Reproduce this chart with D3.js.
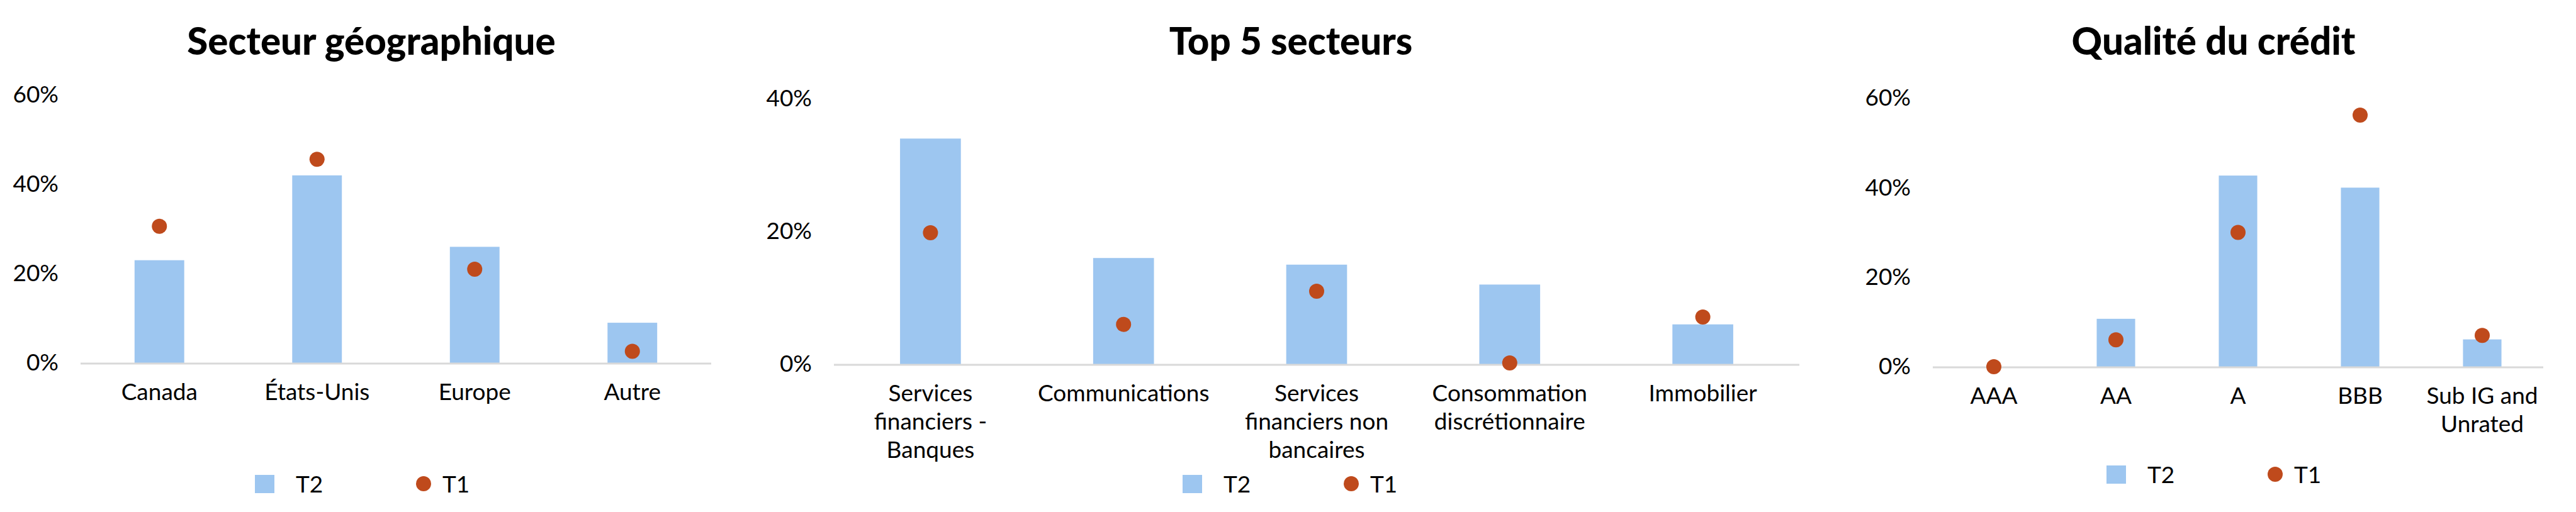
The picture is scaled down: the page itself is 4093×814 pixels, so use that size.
<!DOCTYPE html>
<html>
<head>
<meta charset="utf-8">
<script src="https://cdn.jsdelivr.net/npm/d3@7"></script>
<style>
  body { margin: 0; background: #fff; }
  svg { display: block; font-family: Lato, "Open Sans", sans-serif; }
</style>
</head>
<body>
<svg id="chart" width="4093" height="814"></svg>
<script>
// values in percent
const geoCategories = ["Canada", "États-Unis", "Europe", "Autre"]
const geoT2 = [23, 42, 26, 9]
const geoT1 = [30.6, 45.6, 21, 2.6]

const sectorCategories = ["Services\nfinanciers -\nBanques", "Communications", "Services\nfinanciers non\nbancaires", "Consommation\ndiscrétionnaire", "Immobilier"]
const sectorT2 = [34, 16, 15, 12, 6]
const sectorT1 = [19.8, 6, 11, 0.2, 7.1]

const creditCategories = ["AAA", "AA", "A", "BBB", "Sub IG and\nUnrated"]
const creditT2 = [0, 10.7, 42.7, 40, 6.1]
const creditT1 = [0, 6, 30, 56.2, 7]

const geoTicks = [0, 20, 40, 60]
const sectorTicks = [0, 20, 40]
const creditTicks = [0, 20, 40, 60]

const seriesNames = ["T2", "T1"]

const barColor = "#9dc6f0"
const dotColor = "#bf4a1c"
const fontSize = 37

const panels = [
  {title: "Secteur géographique", cats: geoCategories, t2: geoT2, t1: geoT1, ticks: geoTicks,
   titleX: 590, x0: 128, x1: 1130, y0: 577, yTop: 151, legendX: 405, legendY: 770},
  {title: "Top 5 secteurs", cats: sectorCategories, t2: sectorT2, t1: sectorT1, ticks: sectorTicks,
   titleX: 2051, x0: 1325, x1: 2859, y0: 579, yTop: 157, legendX: 1879, legendY: 770},
  {title: "Qualité du crédit", cats: creditCategories, t2: creditT2, t1: creditT1, ticks: creditTicks,
   titleX: 3517, x0: 3071, x1: 4041, y0: 583, yTop: 156, legendX: 3347, legendY: 755},
]

let svg = d3.select("#chart")

panels.forEach(p => {
  let g = svg.append("g")

  let x = d3.scaleBand()
      .domain(p.cats)
      .range([p.x0, p.x1])
      .paddingInner(0.685)
      .paddingOuter(0.3425)

  let yMax = d3.max(p.ticks)
  let y = d3.scaleLinear()
      .domain([0, yMax])
      .range([p.y0, p.yTop])

  g.append("text")
      .attr("x", p.titleX)
      .attr("y", 87)
      .attr("text-anchor", "middle")
      .attr("font-size", 60)
      .attr("font-weight", 900)
      .attr("fill", "#000")
      .text(p.title)

  // y axis labels only
  let yAxis = g.append("g")
      .attr("transform", `translate(${p.x0},0)`)
      .call(d3.axisLeft(y).tickValues(p.ticks).tickSize(0).tickPadding(35).tickFormat(d => d + "%"))
  yAxis.select(".domain").remove()
  yAxis.selectAll("text")
      .attr("font-size", fontSize)
      .attr("font-family", "Lato, sans-serif")
      .attr("fill", "#000")

  g.append("g").selectAll("rect")
    .data(p.t2)
    .join("rect")
      .attr("x", (d, i) => x(p.cats[i]))
      .attr("y", d => y(d))
      .attr("width", x.bandwidth())
      .attr("height", d => p.y0 - y(d))
      .attr("fill", barColor)

  g.append("line")
      .attr("x1", p.x0)
      .attr("x2", p.x1)
      .attr("y1", p.y0 + 1)
      .attr("y2", p.y0 + 1)
      .attr("stroke", "#d9d9d9")
      .attr("stroke-width", 3)

  g.append("g").selectAll("circle")
    .data(p.t1)
    .join("circle")
      .attr("cx", (d, i) => x(p.cats[i]) + x.bandwidth() / 2)
      .attr("cy", d => y(d))
      .attr("r", 12)
      .attr("fill", dotColor)

  // category labels, split on line breaks
  let xAxis = g.append("g")
      .attr("transform", `translate(0,${p.y0})`)
      .call(d3.axisBottom(x).tickSize(0))
  xAxis.select(".domain").remove()
  xAxis.selectAll("text")
      .attr("font-size", fontSize)
      .attr("font-family", "Lato, sans-serif")
      .attr("fill", "#000")
      .attr("y", 0)
      .attr("dy", null)
      .text(null)
      .each(function(d) {
        let t = d3.select(this)
        d.split("\n").forEach((line, i) => {
          t.append("tspan")
              .attr("x", 0)
              .attr("y", 59 + i * 45)
              .text(line)
        })
      })

  // legend
  let lg = g.append("g")
  lg.append("rect")
      .attr("x", p.legendX)
      .attr("y", p.legendY - 15)
      .attr("width", 31)
      .attr("height", 29)
      .attr("fill", barColor)
  lg.append("text")
      .attr("x", p.legendX + 65)
      .attr("y", p.legendY + 13)
      .attr("font-size", fontSize)
      .text(seriesNames[0])
  lg.append("circle")
      .attr("cx", p.legendX + 268)
      .attr("cy", p.legendY - 1)
      .attr("r", 12)
      .attr("fill", dotColor)
  lg.append("text")
      .attr("x", p.legendX + 298)
      .attr("y", p.legendY + 13)
      .attr("font-size", fontSize)
      .text(seriesNames[1])
})
</script>
</body>
</html>
